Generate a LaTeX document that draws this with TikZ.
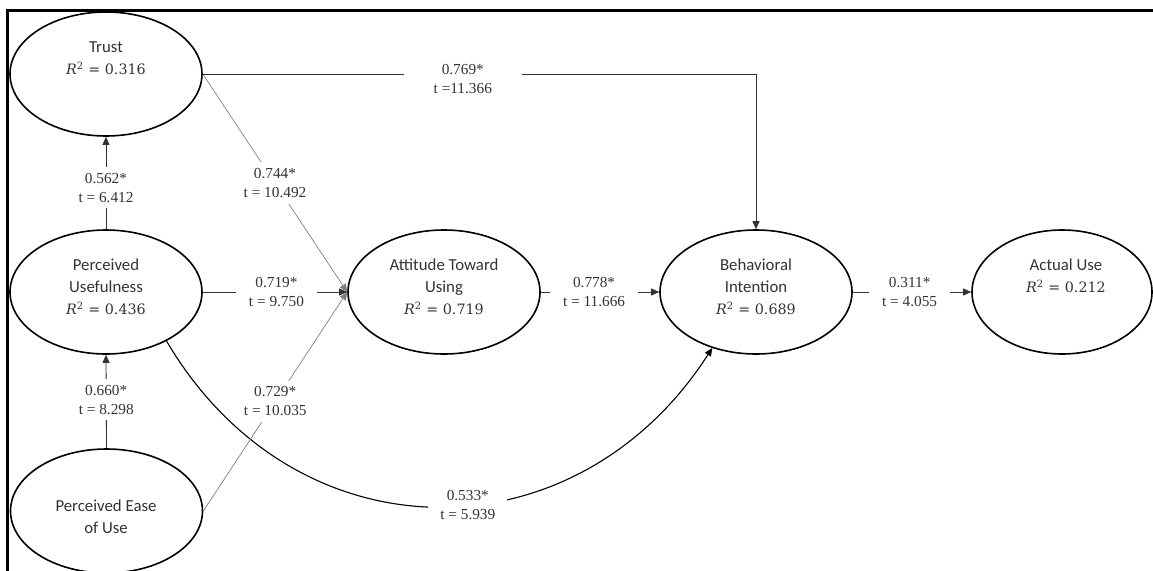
\documentclass[tikz,border=0pt]{standalone}
\usepackage[no-math]{fontspec}
\setmainfont{Carlito}
\newfontfamily\labfont{Liberation Serif}
\newfontfamily\rfont{DejaVu Serif}
\newcommand\Rsq[1]{{\rfont\fontsize{14.3}{22}\selectfont\textit{R}\textsuperscript{2} = #1}}
\usetikzlibrary{arrows.meta,shapes.geometric}
\begin{document}
\begin{tikzpicture}[x=1pt,y=-1pt,
  latent/.style={draw=black, line width=1.6pt, ellipse, minimum width=192pt, minimum height=124pt, inner sep=0pt},
  vtext/.style={text=black!80, align=center, font=\fontsize{16.8}{22}\selectfont},
  coef/.style={fill=white, text=black!80, align=center, font=\labfont\fontsize{15.3}{19}\selectfont, inner xsep=13pt, inner ysep=6pt},
  conn/.style={line width=0.8pt, draw=black!80, -{Triangle[length=8pt,width=7pt]}},
  conng/.style={line width=0.7pt, draw=black!50, -{Triangle[length=8pt,width=7pt]}},
  curvy/.style={line width=1.1pt, draw=black, -{Triangle[length=8pt,width=7pt]}}
]
\useasboundingbox (0,0) rectangle (1153,570);
\clip (0,0) rectangle (1153,570);

% frame
\draw[line width=3pt] (1153,10.5) -- (7.5,10.5) -- (7.5,572);

% latent variables
\node[latent] (trust) at (106,74) {};
\node[latent] (pu) at (106,292) {};
\node[latent] (peou) at (106.5,511) {};
\node[latent] (atu) at (444,292) {};
\node[latent] (bi) at (756,292) {};
\node[latent, minimum width=180pt] (au) at (1062,292) {};

\node[vtext] (trust-t) at (106,58) {Trust\\\Rsq{0.316}};
\node[vtext] (pu-t) at (106,287) {Perceived\\Usefulness\\\Rsq{0.436}};
\node[vtext] (peou-t) at (106,517) {Perceived Ease\\of Use};
\node[vtext] (atu-t) at (444,287) {Attitude Toward\\Using\\\Rsq{0.719}};
\node[vtext] (bi-t) at (756,287) {Behavioral\\Intention\\\Rsq{0.689}};
\node[vtext] (au-t) at (1066,276) {Actual Use\\\Rsq{0.212}};

% curved path PU -> BI
\draw[curvy] (pu.-39) .. controls (296,561) and (576,560) .. node[coef, pos=0.55, inner xsep=12pt] {0.533*\\t = 5.939} (bi.-128);

% paths
\draw[conn] (pu.north) -- node[coef, pos=0.45] {0.562*\\t = 6.412} (trust.south);
\draw[conn] (peou.north) -- node[coef, pos=0.52] {0.660*\\t = 8.298} (pu.south);
\draw[conng] (trust.east) -- node[coef, pos=0.5] {0.744*\\t = 10.492} (atu.west);
\draw[conng] (peou.east) -- node[coef, pos=0.5] {0.729*\\t = 10.035} (atu.west);
\draw[conn] (pu.east) -- node[coef, pos=0.51] {0.719*\\t = 9.750} (atu.west);
\draw[conn] (atu.east) -- node[coef, pos=0.45] {0.778*\\t = 11.666} (bi.west);
\draw[conn] (bi.east) -- node[coef, pos=0.48] {0.311*\\t = 4.055} (au.west);
\draw[conn] (trust.east) -| node[coef, pos=0.235, yshift=-5pt, inner xsep=30pt] {0.769*\\t =11.366} (bi.north);
\end{tikzpicture}
\end{document}
